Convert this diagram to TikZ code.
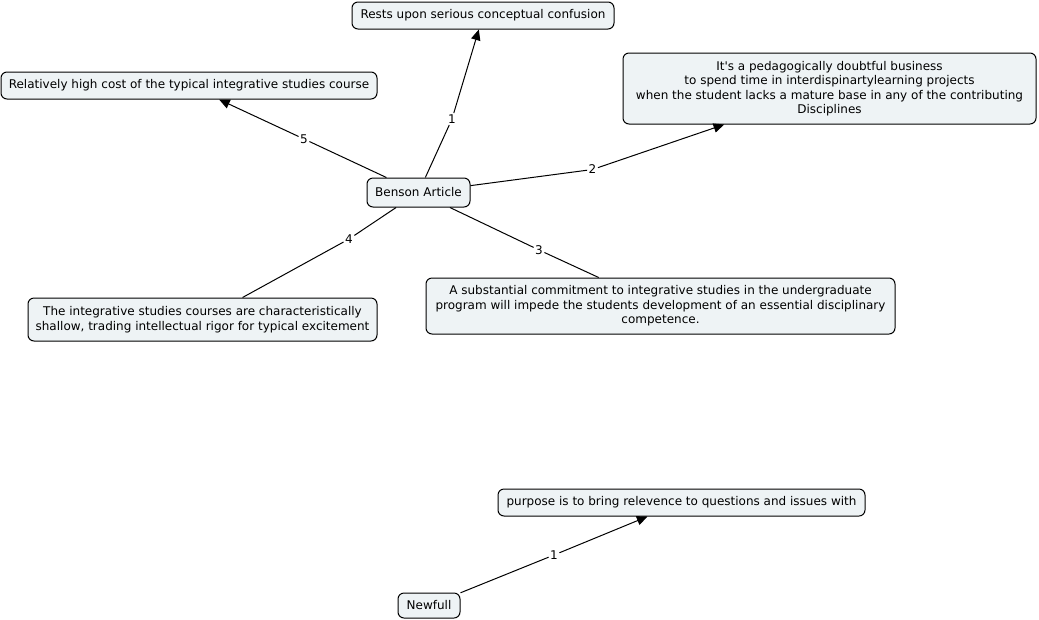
\documentclass[tikz,border=0pt]{standalone}
\usepackage{fontspec}
\setmainfont{DejaVu Sans}[Ligatures=TeXOff]
\usetikzlibrary{arrows.meta}
\definecolor{boxfill}{HTML}{EEF3F5}
\tikzset{
  concept/.style={draw=black, line width=0.75pt, fill=boxfill, rounded corners=4.5pt,
    inner sep=0pt, align=center, font=\fontsize{9}{10.9}\selectfont},
  linklab/.style={fill=white, inner sep=1pt, font=\fontsize{9}{10.9}\selectfont},
  conn/.style={line width=0.75pt, black},
  arr/.style={conn, -{Triangle[length=8pt,width=7pt]}}
}
\begin{document}
\begin{tikzpicture}[x=0.75pt,y=-0.75pt]
\useasboundingbox (0,0) rectangle (1039,619);
\node[concept, minimum width=262*0.75pt, minimum height=27*0.75pt] (top) at (483,15.5) {Rests upon serious conceptual confusion};
\node[concept, minimum width=413*0.75pt, minimum height=71*0.75pt] (pedag) at (829.5,88.5) {It's a pedagogically doubtful business\\to spend time in interdispinartylearning projects\\when the student lacks a mature base in any of the contributing\\Disciplines};
\node[concept, minimum width=376*0.75pt, minimum height=27*0.75pt] (cost) at (189,85.5) {Relatively high cost of the typical integrative studies course};
\node[concept, minimum width=103*0.75pt, minimum height=29*0.75pt] (benson) at (418.5,192.5) {Benson Article};
\node[concept, minimum width=469*0.75pt, minimum height=56*0.75pt] (subst) at (660.5,306) {A substantial commitment to integrative studies in the undergraduate\\program will impede the students development of an essential disciplinary\\competence.};
\node[concept, minimum width=349*0.75pt, minimum height=43*0.75pt] (shallow) at (202.5,319.5) {The integrative studies courses are characteristically\\shallow, trading intellectual rigor for typical excitement};
\node[concept, minimum width=367*0.75pt, minimum height=27*0.75pt] (purpose) at (681.5,502.5) {purpose is to bring relevence to questions and issues with};
\node[concept, minimum width=62*0.75pt, minimum height=25*0.75pt] (newfull) at (429,605.5) {Newfull};

\node[linklab] (l1) at (452,119) {1};
\node[linklab] (l2) at (592.5,169.5) {2};
\node[linklab] (l3) at (539,250) {3};
\node[linklab] (l4) at (349,239) {4};
\node[linklab] (l5) at (304,139) {5};
\node[linklab] (l6) at (554,555) {1};

\draw[conn] (benson) -- (l1); \draw[arr] (l1) -- (top);
\draw[conn] (benson) -- (l2); \draw[arr] (l2) -- (pedag);
\draw[conn] (benson) -- (l3); \draw[conn] (l3) -- (subst);
\draw[conn] (benson) -- (l4); \draw[conn] (l4) -- (shallow);
\draw[conn] (benson) -- (l5); \draw[arr] (l5) -- (cost);
\draw[conn] (newfull) -- (l6); \draw[arr] (l6) -- (purpose);
\end{tikzpicture}
\end{document}
